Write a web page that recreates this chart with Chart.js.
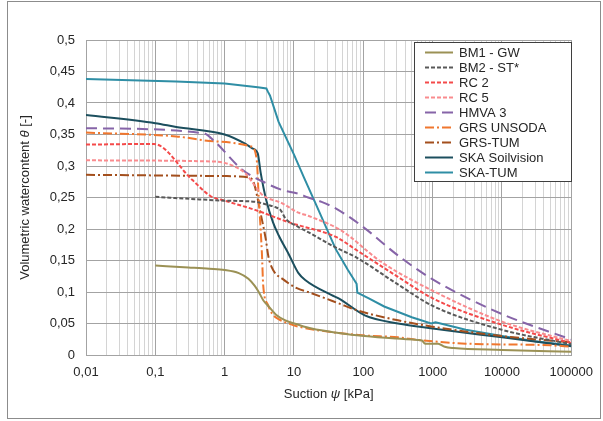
<!DOCTYPE html>
<html>
<head>
<meta charset="utf-8">
<script src="https://cdn.jsdelivr.net/npm/chart.js@4.4.0/dist/chart.umd.min.js"></script>
<style>
  html, body { margin: 0; padding: 0; background: #fff; }
  #wrap { width: 603px; height: 421px; position: relative; }
</style>
</head>
<body>
<div id="wrap"><canvas id="c" width="603" height="421"></canvas></div>
<script>
// ── Datos: succión [kPa] / contenido volumétrico de agua [-] ──────────────
const bm1X = [0.1, 0.3, 0.6, 1, 1.6, 2.2, 2.7, 3.1, 3.6, 4.4, 5.5, 7.5, 11.6, 18, 44, 105, 300, 600, 700, 780, 1200, 1500, 2000, 10000, 100000];
const bm1Y = [0.142, 0.139, 0.137, 0.135, 0.13, 0.121, 0.11, 0.1, 0.087, 0.076, 0.064, 0.055, 0.048, 0.042, 0.035, 0.03, 0.026, 0.024, 0.023, 0.018, 0.018, 0.013, 0.011, 0.008, 0.005];

const bm2X = [0.1, 0.43, 1, 2.8, 4.3, 5.3, 6.4, 7.5, 11.6, 16, 41, 76, 316, 1000, 10000, 100000];
const bm2Y = [0.251, 0.247, 0.245, 0.243, 0.238, 0.235, 0.23, 0.217, 0.203, 0.195, 0.17, 0.156, 0.112, 0.078, 0.04, 0.017];

const rc2X = [0.01, 0.095, 0.34, 0.63, 1, 2.8, 9.3, 11.6, 41, 76, 316, 1000, 10000, 100000];
const rc2Y = [0.334, 0.335, 0.278, 0.252, 0.245, 0.23, 0.209, 0.206, 0.187, 0.168, 0.124, 0.09, 0.048, 0.019];

const rc5X = [0.01, 0.74, 1, 1.4, 2, 2.8, 3.5, 6.7, 11.6, 16, 49, 180, 1000, 10000, 100000];
const rc5Y = [0.309, 0.307, 0.305, 0.299, 0.288, 0.267, 0.254, 0.241, 0.226, 0.221, 0.197, 0.148, 0.102, 0.053, 0.022];

const hmvaX = [0.01, 0.5, 0.7, 1.8, 3.9, 6.7, 11.6, 16, 25, 41, 100, 316, 1000, 10000, 100000];
const hmvaY = [0.36, 0.352, 0.34, 0.294, 0.273, 0.262, 0.256, 0.25, 0.243, 0.232, 0.203, 0.158, 0.12, 0.065, 0.0245];

const grsUX = [0.01, 0.2, 0.74, 2.4, 2.9, 3.1, 3.3, 3.45, 3.6, 4.2, 4.8, 6, 8.4, 11.6, 44, 105, 316, 612, 1200, 3000, 50000, 100000];
const grsUY = [0.353, 0.347, 0.339, 0.331, 0.31, 0.25, 0.2, 0.16, 0.11, 0.08, 0.066, 0.057, 0.05, 0.045, 0.035, 0.031, 0.028, 0.024, 0.021, 0.018, 0.0154, 0.013];

const grsTX = [0.01, 1, 2.2, 2.6, 2.9, 3.3, 3.9, 4.3, 5, 7, 11, 16, 44, 76, 316, 1000, 10000, 100000];
const grsTY = [0.286, 0.284, 0.282, 0.275, 0.255, 0.225, 0.185, 0.155, 0.135, 0.12, 0.106, 0.1, 0.082, 0.072, 0.055, 0.045, 0.03, 0.02];

const skaSX = [0.01, 0.1, 0.2, 1, 2, 2.5, 3, 3.3, 4, 5, 6, 8.4, 11.6, 14.5, 35, 44, 105, 316, 1000, 10000, 100000];
const skaSY = [0.381, 0.368, 0.362, 0.35, 0.335, 0.328, 0.32, 0.29, 0.245, 0.21, 0.19, 0.16, 0.13, 0.119, 0.095, 0.09, 0.063, 0.05, 0.042, 0.028, 0.014];

// SKA-TUM va en tramos rectos (escalón marcado a ~80 kPa)
const skaTX = [0.01, 0.2, 1, 3, 4, 4.2, 4.5, 6, 10, 14, 20, 40, 60, 80, 82, 120, 200, 500, 950, 1100, 1300, 3000, 10000, 30000, 100000];
const skaTY = [0.438, 0.434, 0.431, 0.425, 0.423, 0.418, 0.412, 0.37, 0.318, 0.281, 0.243, 0.168, 0.135, 0.113, 0.099, 0.09, 0.077, 0.06, 0.05, 0.052, 0.05, 0.04, 0.03, 0.022, 0.015];

const xDecades = [0.01, 0.1, 1, 10, 100, 1000, 10000, 100000];
const yTicks = [0, 0.05, 0.1, 0.15, 0.2, 0.25, 0.3, 0.35, 0.4, 0.45, 0.5];

const pts = (xs, ys) => xs.map((x, i) => ({ x, y: ys[i] }));

function serie(label, xs, ys, color, dash, smooth = true) {
  return {
    label, data: pts(xs, ys),
    borderColor: color, backgroundColor: color,
    borderWidth: 2, borderDash: dash, pointRadius: 0,
    cubicInterpolationMode: smooth ? 'monotone' : 'default', tension: 0,
    fill: false
  };
}

const datasets = [
  serie('BM1 - GW',       bm1X,  bm1Y,  '#9b9155', []),
  serie('BM2 - ST*',      bm2X,  bm2Y,  '#595959', [4, 2]),
  serie('RC 2',           rc2X,  rc2Y,  '#f44a4a', [4, 2]),
  serie('RC 5',           rc5X,  rc5Y,  '#f98b8e', [4, 2]),
  serie('HMVA 3',         hmvaX, hmvaY, '#8664a8', [11, 6]),
  serie('GRS UNSODA',     grsUX, grsUY, '#f0772e', [9, 3, 2, 3]),
  serie('GRS-TUM',        grsTX, grsTY, '#a34f1d', [9, 3, 2, 3]),
  serie('SKA Soilvision', skaSX, skaSY, '#1c4f5e', []),
  serie('SKA-TUM',        skaTX, skaTY, '#2f8ea5', [], false)
];

const isDecade = v => xDecades.some(d => Math.abs(v / d - 1) < 1e-6);
const comma = v => String(Math.round(v * 1000) / 1000).replace('.', ',');

// ── Marco exterior del gráfico ──────────────────────────────────────────
const frame = {
  id: 'frame',
  beforeDraw(chart) {
    const ctx = chart.ctx;
    ctx.save();
    ctx.strokeStyle = '#8c8c8c';
    ctx.lineWidth = 1;
    ctx.strokeRect(7.5, 1.5, 593, 417);
    ctx.restore();
  }
};

// ── Leyenda dentro del área del gráfico ─────────────────────────────────
const boxLegend = {
  id: 'boxLegend',
  afterDraw(chart) {
    const ctx = chart.ctx;
    const x0 = 414.5, y0 = 42.5, w = 157, h = 139;
    ctx.save();
    ctx.fillStyle = '#fff';
    ctx.fillRect(x0, y0, w, h);
    ctx.strokeStyle = '#3f3f3f';
    ctx.lineWidth = 1;
    ctx.strokeRect(x0, y0, w, h);
    ctx.font = '13px "Liberation Sans", Arial, sans-serif';
    ctx.textBaseline = 'middle';
    chart.data.datasets.forEach((ds, i) => {
      const y = 52.5 + i * 15;
      ctx.strokeStyle = ds.borderColor;
      ctx.lineWidth = ds.borderWidth;
      ctx.setLineDash(ds.borderDash);
      ctx.beginPath();
      ctx.moveTo(425, y);
      ctx.lineTo(453, y);
      ctx.stroke();
      ctx.setLineDash([]);
      ctx.fillStyle = '#262626';
      ctx.fillText(ds.label, 459, y + 0.5);
    });
    ctx.restore();
  }
};

// ── Títulos de ejes con la letra griega en cursiva ──────────────────────
function drawParts(ctx, parts, cx, cy) {
  const fonts = parts.map(p => (p[1] ? 'italic ' : '') + '13px "Liberation Sans", Arial, sans-serif');
  let total = 0;
  parts.forEach((p, i) => { ctx.font = fonts[i]; total += ctx.measureText(p[0]).width; });
  let x = cx - total / 2;
  parts.forEach((p, i) => {
    ctx.font = fonts[i];
    ctx.fillText(p[0], x, cy);
    x += ctx.measureText(p[0]).width;
  });
}

const axisTitles = {
  id: 'axisTitles',
  afterDraw(chart) {
    const ctx = chart.ctx;
    const a = chart.chartArea;
    ctx.save();
    ctx.fillStyle = '#262626';
    ctx.textBaseline = 'middle';
    ctx.textAlign = 'left';
    drawParts(ctx, [['Suction ', false], ['\u03c8', true], [' [kPa]', false]], (a.left + a.right) / 2, 394);
    ctx.translate(25, (a.top + a.bottom) / 2);
    ctx.rotate(-Math.PI / 2);
    drawParts(ctx, [['Volumetric watercontent ', false], ['\u03b8', true], [' [-]', false]], 0, 0);
    ctx.restore();
  }
};

new Chart(document.getElementById('c'), {
  type: 'line',
  data: { datasets },
  plugins: [frame, boxLegend, axisTitles],
  options: {
    responsive: false,
    animation: false,
    devicePixelRatio: 1,
    layout: { padding: { top: 40, right: 29, left: 0, bottom: 0 } },
    plugins: { legend: { display: false }, tooltip: { enabled: false } },
    scales: {
      x: {
        type: 'logarithmic',
        min: 0.01, max: 100000,
        afterFit: s => { s.height = 66; },
        afterBuildTicks: s => {
          const t = [];
          xDecades.forEach(d => {
            for (let m = 1; m <= 9; m++) {
              const v = d * m;
              if (v <= 100000 * 1.0001) t.push({ value: v });
            }
          });
          s.ticks = t;
        },
        ticks: {
          autoSkip: false, maxRotation: 0, padding: 10,
          color: '#262626',
          font: { family: '"Liberation Sans", Arial, sans-serif', size: 13 },
          callback: v => isDecade(v) ? comma(v) : ''
        },
        grid: {
          drawTicks: false,
          color: c => c.tick && isDecade(c.tick.value) ? '#a3a3a3' : '#d4d4d4'
        },
        border: { color: '#a3a3a3' }
      },
      y: {
        min: 0, max: 0.5,
        afterFit: s => { s.width = 86; },
        afterBuildTicks: s => { s.ticks = yTicks.map(v => ({ value: v })); },
        ticks: {
          padding: 11,
          color: '#262626',
          font: { family: '"Liberation Sans", Arial, sans-serif', size: 13 },
          callback: v => comma(v)
        },
        grid: { drawTicks: false, color: '#a3a3a3' },
        border: { color: '#a3a3a3' }
      }
    }
  }
});
</script>
</body>
</html>
